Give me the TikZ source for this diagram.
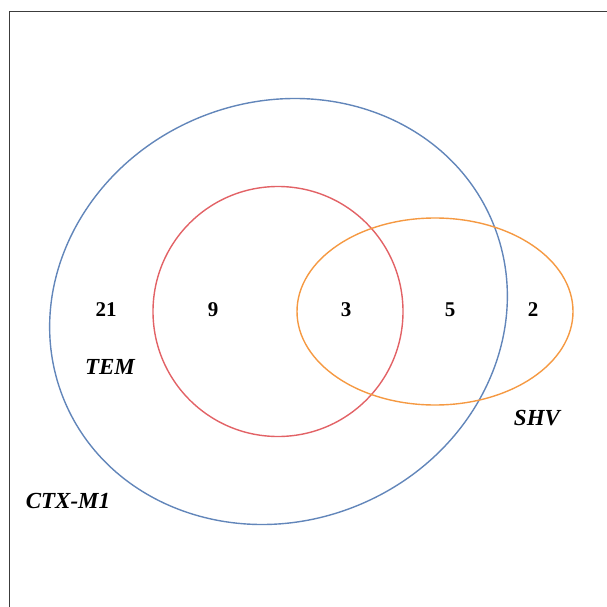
\documentclass[tikz,border=0pt]{standalone}
\usepackage{fontspec}
\setmainfont{Liberation Serif}
\definecolor{ctxblue}{RGB}{98,134,186}
\definecolor{temred}{RGB}{226,98,102}
\definecolor{shvorange}{RGB}{245,153,66}
\definecolor{framegray}{RGB}{60,60,60}
\tikzset{
  setline/.style={line width=1.4pt},
  num/.style={font=\fontsize{21}{25}\selectfont\bfseries, inner sep=0pt},
  setname/.style={font=\fontsize{23}{27}\selectfont\bfseries\itshape, inner sep=0pt},
}
\begin{document}
\begin{tikzpicture}[x=1pt,y=-1pt]
\useasboundingbox (0,0) rectangle (607,607);
% frame along the top and left
\draw[framegray, line width=1.5pt] (9.5,607) -- (9.5,11.5) -- (607,11.5);
% sets
\draw[setline, ctxblue, rotate around={22.6:(278.5,311.5)}] (278.5,311.5) ellipse [x radius=232, y radius=209.5];
\draw[setline, temred] (278,311.5) circle [radius=125];
\draw[setline, shvorange] (435,311.5) ellipse [x radius=138, y radius=93.5];
% region counts
\node[num] (n21) at (106,310) {21};
\node[num] (n9) at (213,310) {9};
\node[num] (n3) at (346,310) {3};
\node[num] (n5) at (450,310) {5};
\node[num] (n2) at (533,310) {2};
% set names
\node[setname] (tem) at (110,367) {TEM};
\node[setname] (shv) at (537,418) {SHV};
\node[setname] (ctx) at (68,501) {CTX-M1};
\end{tikzpicture}
\end{document}
